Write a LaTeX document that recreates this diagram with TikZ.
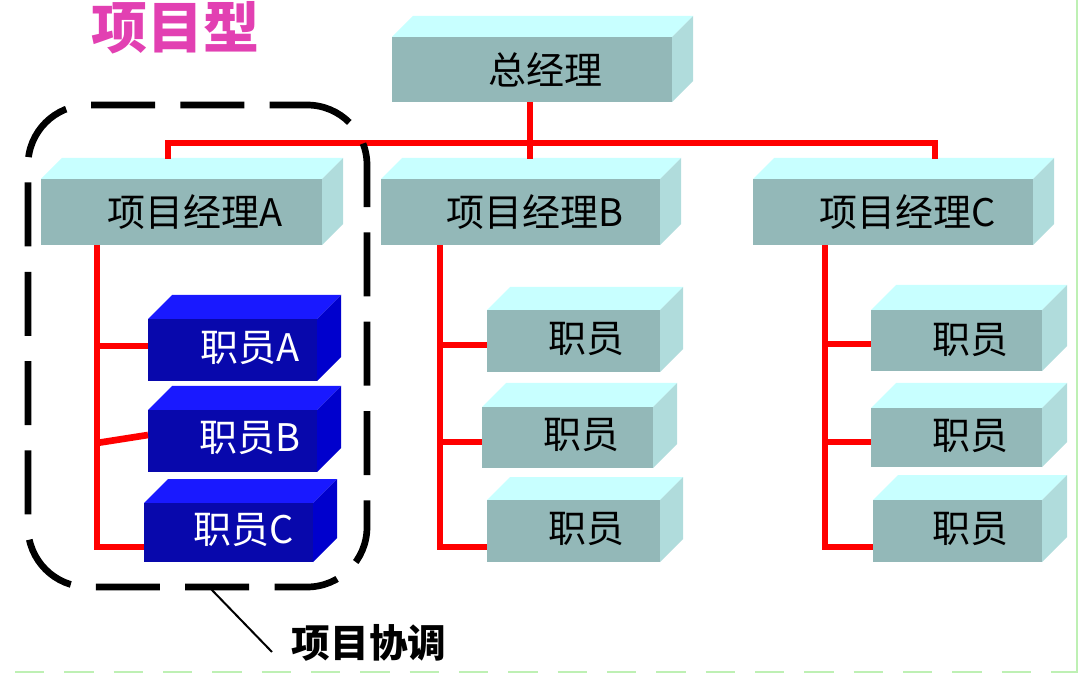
\documentclass[tikz,border=0pt]{standalone}
\usepackage{fontspec}
\newfontfamily\cjk{Noto Sans CJK SC}
\definecolor{gtop}{RGB}{200,255,255}
\definecolor{gside}{RGB}{176,220,220}
\definecolor{gfc}{RGB}{147,184,184}
\definecolor{btop}{RGB}{25,25,255}
\definecolor{bside}{RGB}{0,0,205}
\definecolor{bfc}{RGB}{8,8,172}
\definecolor{titlec}{RGB}{226,64,178}
\definecolor{edgec}{RGB}{190,240,180}
\tikzset{
  gfront/.style={fill=gfc, draw=none, inner sep=0pt, outer sep=0pt},
  bfront/.style={fill=bfc, draw=none, inner sep=0pt, outer sep=0pt},
  gtext/.style={font=\cjk\fontsize{28.5}{32}\selectfont, text=black, inner sep=0pt},
  btext/.style={font=\cjk\fontsize{28.5}{32}\selectfont, text=white, inner sep=0pt},
  conn/.style={draw=red, line width=5pt},
  dashbox/.style={draw=black, line width=5pt, rounded corners=45pt, dash pattern=on 48pt off 19pt, dash phase=20pt},
  callout/.style={draw=black, line width=1.5pt},
}
% #1 name, #2 x1, #3 y1, #4 x2, #5 y2, #6 depth, #7 scheme (g or b)
\newcommand\tdbox[7]{%
  \fill[#7top] (#2,#3) -- ++(#6,-#6) -- ({#4+#6},{#3-#6}) -- (#4,#3) -- cycle;
  \fill[#7side] (#4,#3) -- ({#4+#6},{#3-#6}) -- ({#4+#6},{#5-#6}) -- (#4,#5) -- cycle;
  \node[#7front, minimum width={(#4-#2)*0.75pt}, minimum height={(#5-#3)*0.75pt}] (#1) at ({(#2+#4)/2},{(#3+#5)/2}) {};
}
\begin{document}
\begin{tikzpicture}[x=0.75pt,y=-0.75pt]
\useasboundingbox (0,0) rectangle (1078,673);
% slide edges
\draw[edgec, line width=1.5pt, dash pattern=on 22pt off 15pt] (15,671.5) -- (1078,671.5);
\draw[edgec, line width=1.5pt] (1076.5,0) -- (1076.5,673);
% title
\node[font=\cjk\bfseries\fontsize{42}{46}\selectfont, text=titlec, inner sep=0pt] (title) at (175,28) {项目型};
% red bus
\coordinate (busL) at (168,143);
\coordinate (busR) at (935,143);
% boxes
\tdbox{gm}{392}{37}{672}{102}{21}{g}
\tdbox{mA}{41}{179}{322}{245}{21}{g}
\tdbox{mB}{381}{179}{660}{245}{21}{g}
\tdbox{mC}{753}{179}{1033}{245}{21}{g}
\tdbox{sA1}{148}{319}{317}{381}{24}{b}
\tdbox{sA2}{148}{410}{317}{472}{24}{b}
\tdbox{sA3}{144}{503}{313}{562}{24}{b}
\tdbox{sB1}{487}{310}{660}{372}{23}{g}
\tdbox{sB2}{482}{407}{653}{468}{24}{g}
\tdbox{sB3}{487}{500}{660}{562}{23}{g}
\tdbox{sC1}{871}{310}{1042}{371}{25}{g}
\tdbox{sC2}{871}{408}{1042}{467}{25}{g}
\tdbox{sC3}{873}{500}{1042}{562}{25}{g}
% texts
\node[gtext] (tgm) at (545,70) {总经理};
\node[gtext] (tmA) at (195,212) {项目经理A};
\node[gtext] (tmB) at (535,212) {项目经理B};
\node[gtext] (tmC) at (908,212) {项目经理C};
\node[btext] (tsA1) at (250,348) {职员A};
\node[btext] (tsA2) at (250,438) {职员B};
\node[btext] (tsA3) at (244,530) {职员C};
\node[gtext] (tsB1) at (586,339) {职员};
\node[gtext] (tsB2) at (581,435) {职员};
\node[gtext] (tsB3) at (586,529) {职员};
\node[gtext] (tsC1) at (970,340) {职员};
\node[gtext] (tsC2) at (970,436) {职员};
\node[gtext] (tsC3) at (970,529) {职员};
% red connectors: top level
\draw[conn] (gm.south -| 530,0) -- (530,159);
\draw[conn] (168,159) -- (busL) -- (busR) -- (935,159);
% column A
\coordinate (vA) at (97,547);
\draw[conn] (vA |- mA.south) -- (vA) -- (vA -| sA3.west);
\draw[conn] (97,346) -- (sA1.west |- 0,346);
\draw[conn] (97,443) -- (sA2.west |- 0,435);
% column B
\coordinate (vB) at (440,547);
\draw[conn] (vB |- mB.south) -- (vB) -- (vB -| sB3.west);
\draw[conn] (440,345) -- (sB1.west |- 0,345);
\draw[conn] (440,442) -- (sB2.west |- 0,442);
% column C
\coordinate (vC) at (825,547);
\draw[conn] (vC |- mC.south) -- (vC) -- (vC -| sC3.west);
\draw[conn] (825,344) -- (sC1.west |- 0,344);
\draw[conn] (825,442) -- (sC2.west |- 0,442);
% dashed group
\node[dashbox, minimum width=254.25pt, minimum height=361.5pt, inner sep=0pt] (grp) at (197.5,346) {};
% callout
\coordinate (c1) at (210,588);
\coordinate (c2) at (272,652);
\node[font=\cjk\bfseries\fontsize{29}{32}\selectfont, inner sep=0pt] (lbl) at (369,643) {项目协调};
\draw[callout] (c1) -- (c2);
\end{tikzpicture}
\end{document}
